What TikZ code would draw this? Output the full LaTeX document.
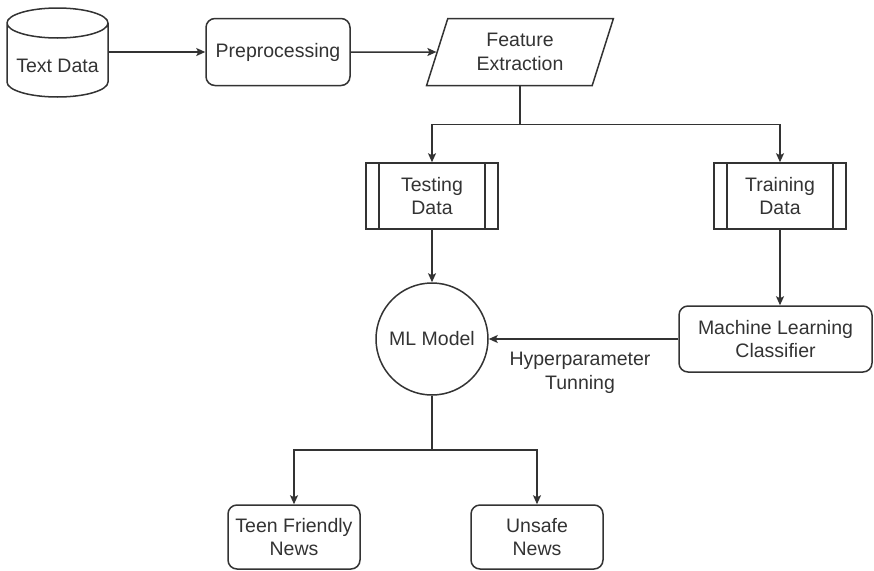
\documentclass[tikz,border=0pt]{standalone}
\usepackage{fontspec}
\setmainfont{Liberation Sans}
\usetikzlibrary{shapes.geometric,arrows.meta}

\definecolor{ink}{HTML}{333333}

\tikzset{
  base/.style={draw=ink, line width=1.5pt, text=ink, align=center,
    font=\fontsize{19.5}{23.4}\selectfont, inner sep=2pt},
  roundbox/.style={base, rounded corners=9pt},
  procbox/.style={base, path picture={
      \draw[ink, line width=1.5pt]
        ([xshift=13pt]path picture bounding box.north west) --
        ([xshift=13pt]path picture bounding box.south west);
      \draw[ink, line width=1.5pt]
        ([xshift=-13pt]path picture bounding box.north east) --
        ([xshift=-13pt]path picture bounding box.south east);}},
  iobox/.style={base, trapezium, trapezium left angle=72,
    trapezium right angle=108, trapezium stretches=true},
  flow/.style={draw=ink, line width=1.5pt,
    -{Stealth[length=9pt,width=8pt,inset=2pt]}},
  plain/.style={draw=ink, line width=1.5pt},
  caption/.style={text=ink, align=center,
    font=\fontsize{19.5}{23.4}\selectfont}
}

\begin{document}
\begin{tikzpicture}[x=1pt,y=-1pt]
  \useasboundingbox (0,0) rectangle (874,570);

  % data store (cylinder)
  \node[minimum width=101pt, minimum height=88pt, inner sep=0pt] (src) at (57.5,52) {};
  \draw[ink, line width=1.5pt]
    (7,23) arc[start angle=180, end angle=360, x radius=50.5, y radius=-15]
    (7,23) arc[start angle=180, end angle=0, x radius=50.5, y radius=-15]
    (7,23) -- (7,82) arc[start angle=180, end angle=360, x radius=50.5, y radius=-15] -- (108,23);
  \node[caption] (srctext) at (57.5,66) {Text Data};

  % processing chain
  \node[roundbox, minimum width=144pt, minimum height=67pt] (pre) at (278,52) {Preprocessing};
  \node[iobox, minimum width=187pt, minimum height=67pt] (feat) at (520,52) {Feature\\Extraction};

  \node[procbox, minimum width=132pt, minimum height=66pt] (test) at (432,196) {Testing\\Data};
  \node[procbox, minimum width=132pt, minimum height=66pt] (train) at (780,196) {Training\\Data};

  \node[base, circle, minimum size=112pt] (ml) at (432,339) {ML Model};
  \node[roundbox, minimum width=193pt, minimum height=66pt] (clf) at (775.5,339) {Machine Learning\\Classifier};

  \node[roundbox, minimum width=132pt, minimum height=64pt] (teen) at (294,537) {Teen Friendly\\News};
  \node[roundbox, minimum width=132pt, minimum height=64pt] (unsafe) at (537,537) {Unsafe\\News};

  % connectors
  \draw[flow] (src.east) -- (pre.west);
  \draw[flow] (pre.east) -- (feat.west);

  \draw[plain] (feat.south) -- ++(0,38) coordinate (split);
  \draw[flow] (split) -| (test.north);
  \draw[flow] (split) -| (train.north);

  \draw[flow] (test.south) -- (ml.north);
  \draw[flow] (train.south) -- (train.south |- clf.north);
  \draw[flow] (clf.west) -- (ml.east);
  \node[caption] (tune) at (580,373) {Hyperparameter\\Tunning};

  \draw[plain] (ml.south) -- ++(0,54) coordinate (fork);
  \draw[flow] (fork) -| (teen.north);
  \draw[flow] (fork) -| (unsafe.north);
\end{tikzpicture}
\end{document}
